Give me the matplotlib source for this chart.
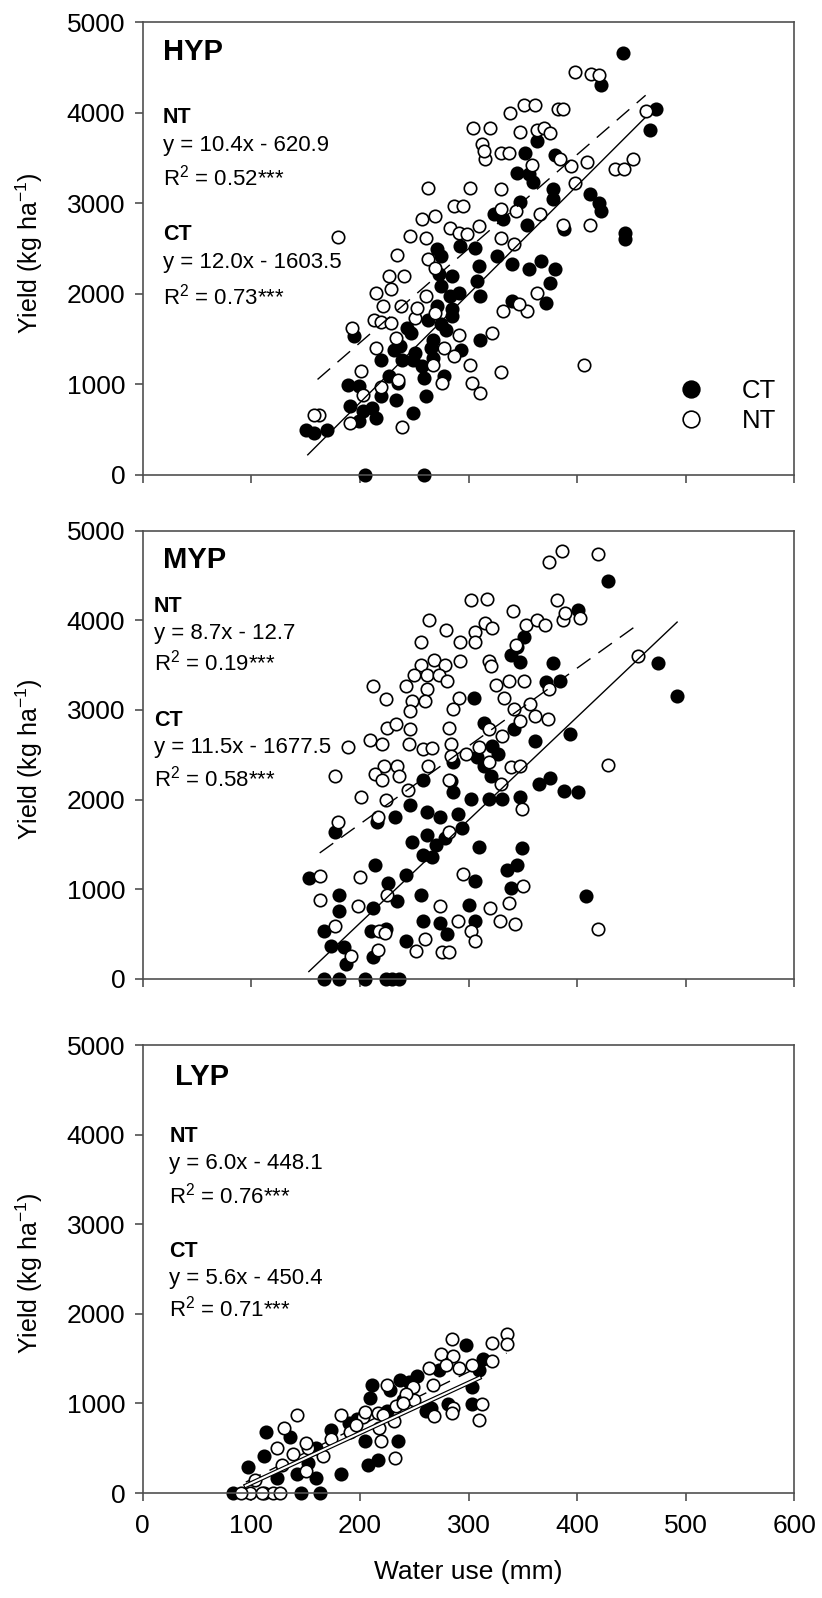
import matplotlib
matplotlib.use("Agg")
import matplotlib.pyplot as plt
import matplotlib.patheffects as pe
from matplotlib.lines import Line2D

plt.rcParams['font.family'] = ['Liberation Sans', 'DejaVu Sans']
plt.rcParams['mathtext.fontset'] = 'custom'
plt.rcParams['mathtext.rm'] = 'Liberation Sans'
plt.rcParams['mathtext.it'] = 'Liberation Sans:italic'
plt.rcParams['mathtext.bf'] = 'Liberation Sans:bold'

# ---------------- data: water use (mm) vs yield (kg/ha) ----------------
hyp_ct_x = [442, 422, 473, 467, 363, 352, 380, 345, 356, 359, 378, 378, 412, 420, 422, 347, 323, 332,
            354, 444, 444, 388, 271, 292, 306, 275, 310, 326, 340, 356, 367, 380, 375, 371, 285, 308,
            311, 340, 275, 283, 271, 285, 263, 275, 243, 247, 237, 251, 239, 219, 265, 293, 311, 195,
            189, 199, 227, 235, 233, 191, 203, 211, 215, 199, 219, 249, 261, 150, 158, 170, 205, 259,
            259, 277, 267, 279, 249, 231, 267, 273, 291, 285, 257]
hyp_ct_y = [4657, 4306, 4041, 3808, 3690, 3554, 3531, 3339, 3321, 3236, 3162, 3044, 3100, 3007, 2915,
            3018, 2878, 2823, 2756, 2675, 2609, 2712, 2498, 2528, 2509, 2417, 2306, 2417, 2325, 2269,
            2362, 2277, 2122, 1900, 2196, 2140, 1974, 1919, 2085, 1974, 1863, 1827, 1716, 1661, 1624,
            1568, 1421, 1347, 1273, 1273, 1402, 1384, 1494, 1531, 996, 978, 1089, 1015, 830, 756, 701,
            738, 627, 590, 867, 683, 867, 498, 461, 498, 0, 0, 1070, 1089, 1292, 1605, 1273, 1384,
            1494, 2214, 2011, 1753, 1199]
hyp_nt_x = [398, 413, 420, 463, 338, 351, 361, 382, 387, 304, 320, 347, 363, 369, 375, 312, 315, 330,
            337, 358, 384, 394, 409, 435, 443, 451, 398, 263, 301, 330, 287, 295, 330, 344, 366, 257,
            269, 310, 387, 412, 180, 246, 261, 283, 291, 299, 330, 342, 234, 227, 241, 229, 215, 238,
            221, 213, 219, 229, 251, 253, 261, 269, 263, 269, 193, 215, 233, 277, 291, 322, 287, 267,
            235, 301, 330, 303, 311, 276, 406, 201, 219, 203, 191, 239, 162, 158, 332, 354, 363, 346,
            314]
hyp_nt_y = [4454, 4428, 4417, 4015, 3993, 4085, 4085, 4041, 4041, 3838, 3838, 3790, 3808, 3838, 3782,
            3653, 3494, 3561, 3561, 3424, 3487, 3413, 3458, 3384, 3384, 3494, 3229, 3173, 3173, 3155,
            2970, 2970, 2934, 2915, 2878, 2823, 2860, 2749, 2756, 2756, 2627, 2638, 2620, 2731, 2675,
            2657, 2620, 2546, 2424, 2196, 2196, 2048, 2004, 1863, 1863, 1716, 1686, 1679, 1734, 1845,
            1974, 1790, 2380, 2288, 1624, 1402, 1513, 1402, 1550, 1568, 1317, 1218, 1052, 1218, 1133,
            1015, 904, 1015, 1218, 1151, 967, 886, 572, 524, 664, 664, 1808, 1808, 2011, 1882, 3579]

myp_ct_x = [428, 401, 474, 492, 351, 345, 339, 347, 378, 371, 384, 305, 314, 342, 361, 393, 322, 327,
            308, 314, 321, 365, 375, 388, 401, 302, 319, 331, 347, 258, 284, 286, 216, 232, 246, 262,
            274, 290, 294, 248, 262, 270, 278, 258, 266, 310, 349, 177, 408, 153, 214, 242, 226, 181,
            181, 212, 234, 256, 258, 274, 306, 306, 335, 345, 339, 300, 167, 173, 185, 187, 212, 210,
            224, 242, 280, 167, 181, 205, 224, 230, 236, 286]
myp_ct_y = [4439, 4114, 3524, 3155, 3819, 3708, 3616, 3531, 3524, 3310, 3321, 3137, 2860, 2786, 2657,
            2731, 2601, 2509, 2472, 2380, 2269, 2177, 2240, 2092, 2085, 2011, 2011, 2011, 2030, 2214,
            2203, 2085, 1753, 1808, 1937, 1863, 1808, 1845, 1679, 1531, 1605, 1494, 1568, 1384, 1365,
            1476, 1458, 1642, 930, 1125, 1273, 1162, 1070, 941, 756, 793, 867, 941, 646, 627, 1089,
            646, 1218, 1273, 1015, 830, 535, 369, 351, 166, 240, 535, 553, 424, 498, 0, 0, 0, 0, 0, 0,
            2417]
myp_nt_x = [386, 374, 419, 302, 317, 381, 341, 264, 279, 315, 322, 306, 353, 363, 370, 387, 403, 389,
            256, 292, 306, 344, 256, 268, 278, 292, 319, 321, 250, 262, 273, 280, 212, 242, 262, 325,
            337, 351, 374, 224, 248, 260, 291, 246, 286, 333, 342, 357, 361, 373, 225, 233, 246, 282,
            319, 331, 347, 209, 220, 189, 245, 258, 266, 284, 298, 310, 284, 222, 234, 263, 214, 236,
            177, 220, 282, 319, 339, 347, 428, 456, 201, 224, 244, 330, 349, 282, 217, 180, 163, 163,
            200, 198, 225, 274, 295, 320, 350, 337, 329, 343, 290, 302, 306, 260, 252, 217, 192, 218,
            177, 276, 282, 419, 223]
myp_nt_y = [4779, 4649, 4742, 4225, 4236, 4225, 4103, 4004, 3893, 3974, 3911, 3875, 3948, 4004, 3948,
            4004, 4022, 4077, 3753, 3753, 3764, 3727, 3506, 3561, 3506, 3542, 3542, 3487, 3395, 3395,
            3395, 3321, 3266, 3266, 3229, 3284, 3321, 3321, 3229, 3118, 3100, 3100, 3137, 2989, 3015,
            3137, 3007, 3063, 2934, 2904, 2804, 2841, 2786, 2804, 2786, 2712, 2878, 2668, 2620, 2583,
            2620, 2565, 2572, 2620, 2509, 2583, 2491, 2380, 2380, 2380, 2288, 2269, 2262, 2214, 2214,
            2417, 2362, 2380, 2391, 3598, 2030, 1993, 2103, 2177, 1900, 1642, 1801, 1753, 1144, 886,
            1133, 812, 941, 812, 1170, 793, 1041, 849, 646, 609, 646, 535, 424, 443, 314, 321, 258,
            535, 590, 295, 295, 561, 516]

lyp_ct_x = [298, 313, 310, 303, 303, 281, 261, 253, 237, 240, 211, 209, 225, 205, 207, 217, 235, 173,
            183, 160, 136, 114, 112, 124, 97, 142, 146, 163, 83, 112, 152, 160, 197, 273, 265, 228,
            245, 190]
lyp_ct_y = [1647, 1494, 1369, 1183, 996, 996, 913, 1307, 1266, 1037, 1203, 1058, 913, 581, 311, 373,
            581, 705, 207, 498, 622, 685, 415, 166, 290, 207, 0, 0, 0, 0, 332, 166, 830, 1369, 950,
            1150, 1240, 780]
lyp_nt_x = [335, 335, 322, 322, 285, 275, 286, 291, 303, 264, 267, 249, 250, 225, 233, 217, 221, 203,
            183, 191, 218, 219, 231, 232, 173, 166, 152, 142, 130, 124, 128, 103, 99, 91, 120, 126,
            150, 138, 268, 286, 285, 310, 312, 279, 242, 150, 110, 196, 240, 205]
lyp_nt_y = [1776, 1660, 1680, 1473, 1714, 1556, 1535, 1390, 1431, 1390, 1203, 1183, 1037, 1203, 975,
            892, 871, 851, 871, 685, 726, 581, 809, 394, 602, 415, 498, 871, 726, 498, 311, 145, 0, 0,
            0, 0, 249, 436, 859, 954, 892, 817, 996, 1431, 1100, 560, 0, 760, 1000, 900]

# regression fits: slope, intercept, x range of the drawn line
panel_names = ['HYP', 'MYP', 'LYP']
nt_slope = [10.4, 8.7, 6.0]
nt_icpt = [-620.9, -12.7, -448.1]
nt_r2 = ['0.52', '0.19', '0.76']
nt_xrange = [(161, 463), (163, 452), (95, 335)]
ct_slope = [12.0, 11.5, 5.6]
ct_icpt = [-1603.5, -1677.5, -450.4]
ct_r2 = ['0.73', '0.58', '0.71']
ct_xrange = [(152, 462), (153, 492), (95, 310)]

ct_data = [(hyp_ct_x, hyp_ct_y), (myp_ct_x, myp_ct_y), (lyp_ct_x, lyp_ct_y)]
nt_data = [(hyp_nt_x, hyp_nt_y), (myp_nt_x, myp_nt_y), (lyp_nt_x, lyp_nt_y)]

# ---------------- figure ----------------
fig = plt.figure(figsize=(8.22, 15.98), dpi=100)
left, width = 0.1735, 0.793
bottoms = [0.7029, 0.3874, 0.0657]
heights = [0.2831, 0.2805, 0.2803]

# annotation layout in axes fraction
title_y = [0.934, 0.935, 0.929]
title_x = [0.031, 0.032, 0.049]
text_x = [0.031, 0.017, 0.041]
rows_y = [[0.790, 0.727, 0.657, 0.531, 0.469, 0.395],
          [0.830, 0.771, 0.705, 0.576, 0.517, 0.446],
          [0.797, 0.735, 0.664, 0.540, 0.480, 0.411]]

spine_col = '#505050'
for i in range(3):
    ax = fig.add_axes([left, bottoms[i], width, heights[i]])
    cx, cy = ct_data[i]
    nx, ny = nt_data[i]
    ax.scatter(cx, cy, s=80, facecolor='black', edgecolor='black', linewidth=1.2, zorder=2,
               clip_on=False)
    ax.scatter(nx, ny, s=80, facecolor='white', edgecolor='black', linewidth=1.2, zorder=2,
               clip_on=False)

    xs = list(ct_xrange[i])
    ys = [ct_slope[i] * v + ct_icpt[i] for v in xs]
    xn = list(nt_xrange[i])
    yn = [nt_slope[i] * v + nt_icpt[i] for v in xn]
    if i < 2:
        ax.plot(xs, ys, color='black', lw=1.0, zorder=3)
        ax.plot(xn, yn, color='black', lw=1.0, dashes=(12, 7), zorder=3)
    else:
        # low-yield panel: fit lines sit inside the dense cloud
        halo = [pe.Stroke(linewidth=3.2, foreground='black'), pe.Normal()]
        ax.plot(xn, yn, color='black', lw=1.0, dashes=(12, 7), zorder=1)
        ax.plot(xs, ys, color='white', lw=1.5, zorder=3, path_effects=halo)

    ax.set_xlim(0, 600)
    ax.set_ylim(0, 5000)
    ax.set_xticks(range(0, 601, 100))
    ax.set_yticks(range(0, 5001, 1000))
    ax.tick_params(direction='out', length=6, width=1.2, color=spine_col, labelsize=19,
                   top=False, right=False)
    ax.tick_params(axis='y', pad=6.5)
    ax.tick_params(axis='x', pad=9)
    if i < 2:
        ax.set_xticklabels([])
    for s in ax.spines.values():
        s.set_color(spine_col)
        s.set_linewidth(1.2)
    ax.set_ylabel('Yield (kg ha$^{-1}$)', fontsize=18)
    ax.yaxis.set_label_coords(-0.149, 0.49)

    ax.text(title_x[i], title_y[i], panel_names[i], transform=ax.transAxes, fontsize=21,
            fontweight='bold', va='center', ha='left')
    r = rows_y[i]
    tx = text_x[i]
    ax.text(tx, r[0], 'NT', transform=ax.transAxes, fontsize=15.5, fontweight='bold', va='center')
    ax.text(tx, r[1], f'y = {nt_slope[i]:.1f}x - {-nt_icpt[i]:.1f}', transform=ax.transAxes,
            fontsize=16, va='center')
    ax.text(tx, r[2], f'R$^2$ = {nt_r2[i]}***', transform=ax.transAxes, fontsize=16, va='center')
    ax.text(tx, r[3], 'CT', transform=ax.transAxes, fontsize=15.5, fontweight='bold', va='center')
    ax.text(tx, r[4], f'y = {ct_slope[i]:.1f}x - {-ct_icpt[i]:.1f}', transform=ax.transAxes,
            fontsize=16, va='center')
    ax.text(tx, r[5], f'R$^2$ = {ct_r2[i]}***', transform=ax.transAxes, fontsize=16, va='center')

    if i == 0:
        handles = [Line2D([], [], marker='o', ls='none', markersize=12, markerfacecolor='black',
                          markeredgecolor='black', markeredgewidth=1.2),
                   Line2D([], [], marker='o', ls='none', markersize=12, markerfacecolor='white',
                          markeredgecolor='black', markeredgewidth=1.2)]
        ax.legend(handles, ['CT', 'NT'], loc='center left', bbox_to_anchor=(0.825, 0.152),
                  frameon=False, fontsize=18.5, handlelength=0.8, handletextpad=1.6,
                  labelspacing=0.2, borderpad=0, borderaxespad=0)
    if i == 2:
        ax.set_xlabel('Water use (mm)', fontsize=19, labelpad=16)

fig.savefig('out.png', dpi=100)
